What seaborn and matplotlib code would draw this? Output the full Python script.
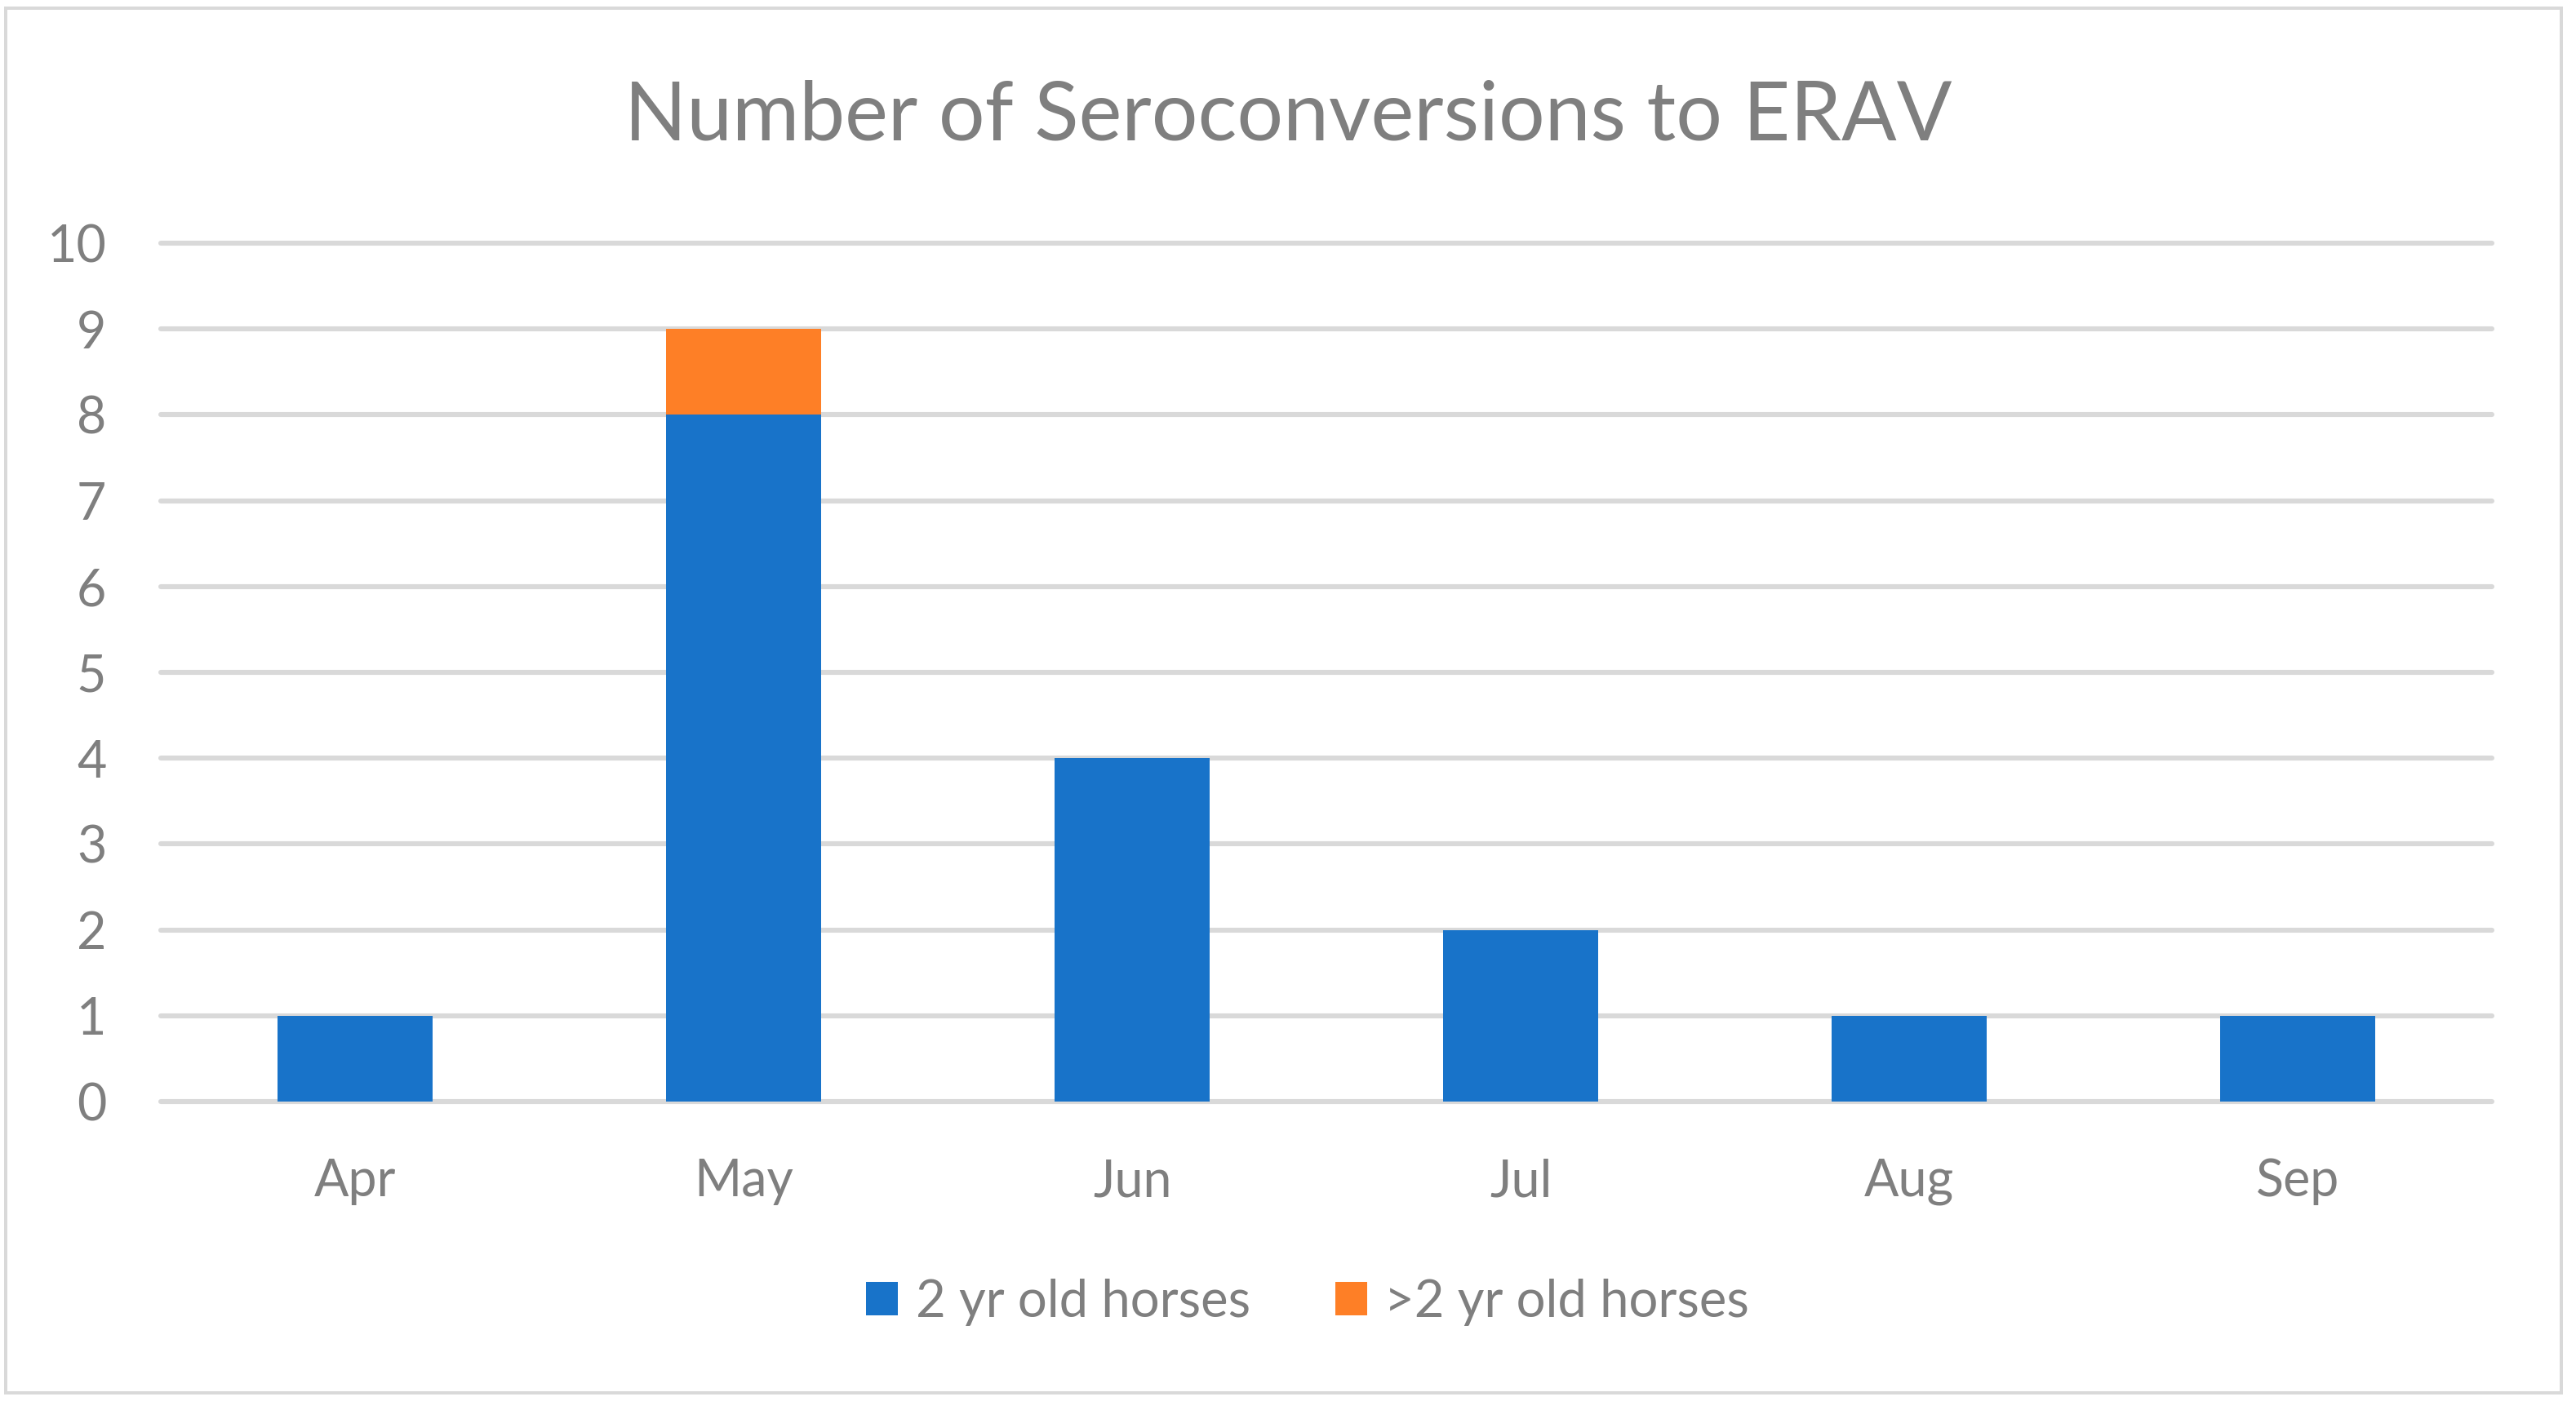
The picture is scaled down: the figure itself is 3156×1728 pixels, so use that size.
import numpy as np
import pandas as pd
import seaborn as sns
import matplotlib.pyplot as plt
from matplotlib.patches import Patch, Rectangle

months = ["Apr", "May", "Jun", "Jul", "Aug", "Sep"]
two_yr = [1, 8, 4, 2, 1, 1]
older = [0, 1, 0, 0, 0, 0]
labels = ["2 yr old horses", ">2 yr old horses"]

blue = "#1873c9"
orange = "#fe7f26"
grey_txt = "#7f7f7f"
grid_col = "#d9d9d9"

sns.set_theme(style="white")
plt.rcParams['font.family'] = ['Lato', 'DejaVu Sans']

df = pd.DataFrame({"month": months, "two": two_yr, "older": older})
df["total"] = df["two"] + df["older"]

fig = plt.figure(figsize=(15.78, 8.64), dpi=200)
ax = fig.add_axes([0.0624, 0.2188, 0.905, 0.6088])

# stacked: draw totals first, then the lower segment over it
sns.barplot(data=df, x="month", y="total", color=orange, width=0.4,
            saturation=1, linewidth=0, ax=ax, zorder=3)
sns.barplot(data=df, x="month", y="two", color=blue, width=0.4,
            saturation=1, linewidth=0, ax=ax, zorder=3)

ax.set_xlim(-0.5, 5.5)
ax.set_ylim(0, 10)
ax.set_yticks(range(0, 11))
ax.set_xlabel("")
ax.set_ylabel("")
ax.grid(axis="y", color=grid_col, linewidth=2.2, zorder=0)
ax.set_axisbelow(True)
for l in ax.yaxis.get_gridlines():
    l.set_clip_on(False)
for s in ax.spines.values():
    s.set_visible(False)
ax.tick_params(axis="y", length=0, pad=24, labelsize=22.6, labelcolor=grey_txt)
ax.tick_params(axis="x", length=0, pad=25, labelsize=22.6, labelcolor=grey_txt)

fig.text(0.5, 0.917, "Number of Seroconversions to ERAV", ha="center", va="center",
         fontsize=36, color=grey_txt)

handles = [Patch(facecolor=blue, edgecolor="none"), Patch(facecolor=orange, edgecolor="none")]
fig.legend(handles, labels, loc="center", bbox_to_anchor=(0.5076, 0.0764), ncol=2,
           frameon=False, fontsize=22.8, labelcolor=grey_txt,
           handlelength=0.62, handleheight=0.62, handletextpad=0.34, columnspacing=1.64)

fig.patches.append(Rectangle((0.0022, 0.0122), 0.9921, 0.982, transform=fig.transFigure,
                             fill=False, edgecolor=grid_col, linewidth=1.44))

fig.savefig("out.png", dpi=200, facecolor="white")
